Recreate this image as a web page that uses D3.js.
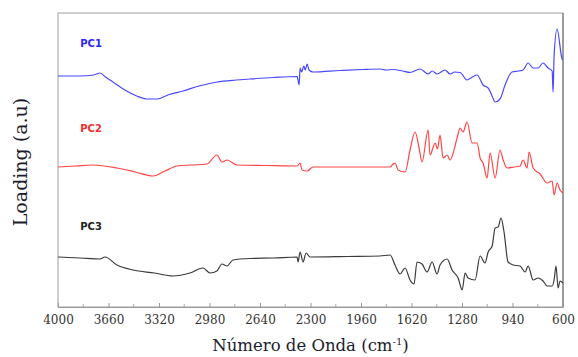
<!DOCTYPE html>
<html lang="pt">
<head>
  <meta charset="UTF-8">
  <title>Loadings PCA</title>
  <style>
    body { margin: 0; background: #fff; }
  </style>
</head>
<body>
  <svg></svg>
  <script src="https://cdn.jsdelivr.net/npm/d3@7"></script>
  <script>
    // número de onda (cm-1) e loadings
    var pc1Wave = [4000, 3850, 3760, 3717, 3680, 3630, 3550, 3470, 3400, 3333, 3260, 3158, 3050, 2930, 2800, 2707, 2550, 2390, 2377, 2370, 2360, 2345, 2335, 2323, 2310, 2283, 2100, 1950, 1832, 1790, 1744, 1680, 1630, 1562, 1508, 1481, 1448, 1394, 1360, 1330, 1293, 1246, 1210, 1178, 1138, 1104, 1080, 1057, 1024, 990, 943, 900, 869, 835, 801, 768, 734, 700, 673, 667, 660, 640, 606, 600];
    var pc1Load = [2.31, 2.31, 2.32, 2.34, 2.30, 2.25, 2.17, 2.11, 2.08, 2.08, 2.12, 2.16, 2.21, 2.25, 2.27, 2.28, 2.295, 2.305, 2.22, 2.39, 2.35, 2.41, 2.37, 2.43, 2.37, 2.35, 2.365, 2.375, 2.38, 2.37, 2.375, 2.36, 2.345, 2.38, 2.33, 2.36, 2.33, 2.37, 2.33, 2.35, 2.345, 2.27, 2.30, 2.32, 2.22, 2.19, 2.12, 2.05, 2.08, 2.22, 2.35, 2.36, 2.37, 2.44, 2.39, 2.39, 2.44, 2.39, 2.36, 2.15, 2.51, 2.78, 2.48, 2.47];

    var pc2Wave = [4000, 3880, 3764, 3603, 3480, 3360, 3280, 3199, 3100, 2997, 2930, 2896, 2862, 2795, 2600, 2390, 2370, 2357, 2323, 2283, 2000, 1764, 1744, 1731, 1710, 1663, 1630, 1596, 1570, 1549, 1508, 1495, 1461, 1445, 1428, 1407, 1380, 1360, 1313, 1293, 1273, 1246, 1212, 1178, 1158, 1138, 1111, 1091, 1057, 1024, 1003, 976, 930, 889, 869, 842, 828, 801, 754, 707, 673, 660, 640, 620, 600];
    var pc2Load = [1.40, 1.41, 1.42, 1.39, 1.35, 1.31, 1.36, 1.41, 1.42, 1.43, 1.52, 1.45, 1.47, 1.42, 1.415, 1.41, 1.44, 1.37, 1.36, 1.40, 1.40, 1.40, 1.43, 1.44, 1.37, 1.35, 1.57, 1.75, 1.60, 1.45, 1.77, 1.52, 1.64, 1.58, 1.72, 1.49, 1.52, 1.47, 1.69, 1.79, 1.75, 1.85, 1.64, 1.64, 1.49, 1.44, 1.29, 1.54, 1.29, 1.57, 1.47, 1.39, 1.40, 1.41, 1.47, 1.39, 1.55, 1.39, 1.33, 1.24, 1.26, 1.12, 1.24, 1.17, 1.14];

    var pc3Wave = [4000, 3850, 3717, 3684, 3603, 3495, 3350, 3226, 3111, 3024, 2976, 2930, 2896, 2862, 2822, 2707, 2550, 2390, 2384, 2370, 2350, 2330, 2303, 2050, 1832, 1764, 1731, 1697, 1663, 1630, 1603, 1583, 1549, 1515, 1481, 1448, 1428, 1380, 1347, 1306, 1279, 1259, 1239, 1192, 1158, 1125, 1104, 1077, 1057, 1037, 1017, 997, 970, 936, 889, 855, 835, 801, 768, 734, 707, 673, 660, 647, 633, 620, 600];
    var pc3Load = [0.50, 0.49, 0.48, 0.50, 0.42, 0.37, 0.34, 0.31, 0.34, 0.39, 0.34, 0.36, 0.43, 0.41, 0.47, 0.485, 0.49, 0.50, 0.45, 0.55, 0.45, 0.54, 0.50, 0.505, 0.51, 0.52, 0.42, 0.33, 0.39, 0.27, 0.23, 0.45, 0.43, 0.35, 0.45, 0.33, 0.42, 0.48, 0.37, 0.29, 0.17, 0.34, 0.29, 0.27, 0.51, 0.44, 0.55, 0.61, 0.79, 0.80, 0.89, 0.75, 0.45, 0.42, 0.41, 0.35, 0.41, 0.27, 0.29, 0.26, 0.21, 0.21, 0.27, 0.41, 0.19, 0.26, 0.24];

    var seriesNames = ["PC1", "PC2", "PC3"];
    var tickValues = [4000, 3660, 3320, 2980, 2640, 2300, 1960, 1620, 1280, 940, 600];
    var minorTicks = [3830, 3490, 3150, 2810, 2470, 2130, 1790, 1450, 1110, 770];

    var width = 578, height = 357;
    var margin = {top: 13, right: 15, bottom: 50, left: 58};

    var svg = d3.select("svg")
      .attr("width", width)
      .attr("height", height);

    var x = d3.scaleLinear()
      .domain([4000, 600])
      .range([margin.left, width - margin.right]);
    var y = d3.scaleLinear()
      .domain([0, 2.94])
      .range([height - margin.bottom, margin.top]);

    // moldura
    svg.append("rect")
      .attr("x", x(4000))
      .attr("y", y(2.94))
      .attr("width", x(600) - x(4000))
      .attr("height", y(0) - y(2.94))
      .attr("fill", "none")
      .attr("stroke", "#b0b0b0")
      .attr("stroke-width", 1.2);
    svg.append("line")
      .attr("x1", x(600)).attr("x2", x(600))
      .attr("y1", y(2.94)).attr("y2", y(0))
      .attr("stroke", "#909090")
      .attr("stroke-width", 1.6);

    // eixo x
    var axis = d3.axisBottom(x)
      .tickValues(tickValues)
      .tickSize(-4)
      .tickPadding(8)
      .tickFormat(d3.format("d"));
    var gx = svg.append("g")
      .attr("transform", `translate(0, ${y(0)})`)
      .call(axis);
    gx.select(".domain").attr("stroke", "#999");
    gx.selectAll(".tick line").attr("stroke", "#999");
    gx.selectAll(".tick text")
      .attr("font-family", "DejaVu Serif")
      .attr("font-size", "12px")
      .attr("fill", "#333");

    svg.append("g")
      .selectAll("line")
      .data(minorTicks)
      .join("line")
      .attr("x1", d => x(d)).attr("x2", d => x(d))
      .attr("y1", y(0)).attr("y2", y(0) - 3)
      .attr("stroke", "#aaa");

    // curvas
    var series = [
      {wave: pc1Wave, load: pc1Load, color: "#4848ff", label: "#2a2aee", ly: 2.6},
      {wave: pc2Wave, load: pc2Load, color: "#ff4545", label: "#f03030", ly: 1.75},
      {wave: pc3Wave, load: pc3Load, color: "#3a3a3a", label: "#222", ly: 0.77}
    ];
    var line = d3.line()
      .curve(d3.curveMonotoneX)
      .x(d => x(d[0]))
      .y(d => y(d[1]));

    series.forEach(function(s, i) {
      svg.append("path")
        .datum(d3.zip(s.wave, s.load))
        .attr("fill", "none")
        .attr("stroke", s.color)
        .attr("stroke-width", 1.2)
        .attr("stroke-linejoin", "round")
        .attr("d", line);

      svg.append("text")
        .attr("x", x(3850))
        .attr("y", y(s.ly))
        .attr("font-family", "DejaVu Sans")
        .attr("font-weight", "bold")
        .attr("font-size", "10px")
        .attr("fill", s.label)
        .text(seriesNames[i]);
    });

    // títulos dos eixos
    var xt = svg.append("text")
      .attr("x", (x(4000) + x(600)) / 2)
      .attr("y", 351)
      .attr("text-anchor", "middle")
      .attr("font-family", "DejaVu Serif")
      .attr("font-size", "16.5px")
      .attr("fill", "#1c1c2c");
    xt.append("tspan").text("Número de Onda (cm");
    xt.append("tspan").attr("dy", -6).attr("font-size", "10px").text("-1");
    xt.append("tspan").attr("dy", 6).text(")");

    svg.append("text")
      .attr("transform", `translate(27, ${(y(0) + y(2.94)) / 2 + 2}) rotate(-90)`)
      .attr("text-anchor", "middle")
      .attr("font-family", "DejaVu Serif")
      .attr("font-size", "19px")
      .attr("fill", "#1c1c2c")
      .text("Loading (a.u)");
  </script>
</body>
</html>
